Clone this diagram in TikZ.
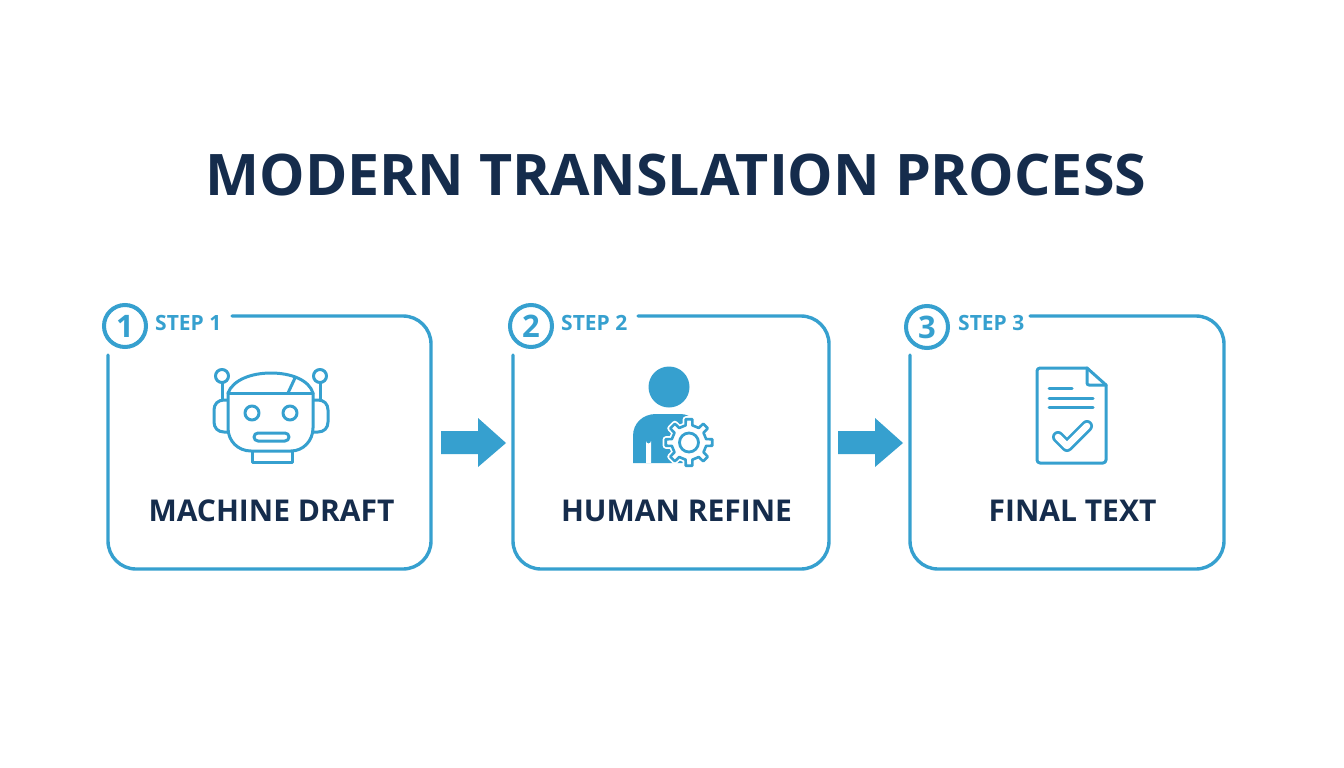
\documentclass[tikz,border=0pt]{standalone}
\usepackage{fontspec}
\setmainfont{Open Sans}
\definecolor{navy}{HTML}{152C4C}
\definecolor{teal1}{HTML}{36A0CF}
\tikzset{
 card/.style={draw=teal1,line width=3.4pt,rounded corners=28pt,line cap=round},
 badge/.style={circle,draw=teal1,line width=4pt,fill=white,minimum size=42pt,inner sep=0pt,text=teal1,font=\fontsize{31}{31}\selectfont\bfseries},
 steplab/.style={text=teal1,font=\fontsize{21}{24}\selectfont\bfseries,inner sep=0pt},
 cardlab/.style={text=navy,font=\fontsize{30}{34}\selectfont\bfseries,inner sep=0pt},
 ico/.style={draw=teal1,line width=3pt,line join=round,line cap=round},
 flow/.style={fill=teal1,draw=none}
}
\begin{document}
\begin{tikzpicture}[x=1pt,y=-1pt]
\useasboundingbox (0,0) rectangle (1344,768);
\fill[white] (0,0) rectangle (1344,768);
\node[text=navy,inner sep=0pt,font=\fontsize{57.3}{64}\selectfont\bfseries] (title) at (676,175) {MODERN TRANSLATION PROCESS};
% cards
\draw[card] (108,355) -- (108,569) -- (431,569) -- (431,316) -- (232,316);
\draw[card] (513,355) -- (513,569) -- (829,569) -- (829,316) -- (638,316);
\draw[card] (910,355) -- (910,569) -- (1224,569) -- (1224,316) -- (1030,316);
% badges
\node[badge] (b1) at (125,326) {1};
\node[badge] (b2) at (531,326) {2};
\node[badge] (b3) at (927,327) {3};
\node[steplab,anchor=west] (s1) at (155,323) {STEP 1};
\node[steplab,anchor=west] (s2) at (561,323) {STEP 2};
\node[steplab,anchor=west] (s3) at (958,323) {STEP 3};
% labels
\node[cardlab] (l1) at (271.5,511) {MACHINE DRAFT};
\node[cardlab] (l2) at (676.5,511) {HUMAN REFINE};
\node[cardlab] (l3) at (1072.5,511) {FINAL TEXT};
% arrows
\fill[flow] (441,431) -- (478,431) -- (478,418) -- (506,443) -- (478,467) -- (478,454) -- (441,454) -- cycle;
\fill[flow] (838,431) -- (875,431) -- (875,418) -- (903,443) -- (875,467) -- (875,454) -- (838,454) -- cycle;
% robot
\begin{scope}[ico]
\draw (222,376) circle (6.5);
\draw (320,376) circle (6.5);
\draw (222,382.5) -- (222,402);
\draw (320,382.5) -- (320,402);
\draw[fill=white] (228,400) -- (224,400) .. controls (218,400) and (214,404) .. (214,410) -- (214,422) .. controls (214,428) and (218,432) .. (224,432) -- (230,432);
\draw[fill=white] (313,400) -- (318,400) .. controls (324,400) and (328,404) .. (328,410) -- (328,422) .. controls (328,428) and (324,432) .. (318,432) -- (312,432);
\draw (252,451) -- (252,462) -- (292,462) -- (292,451);
\draw[fill=white] (228,393) .. controls (233,380) and (251,373) .. (271,373) .. controls (291,373) and (309,380) .. (313,393) -- (313,428) .. controls (313,441) and (303,451) .. (291,451) -- (251,451) .. controls (238,451) and (228,441) .. (228,428) -- cycle;
\draw (228,393) -- (313,393);
\draw (295,378) -- (288,393);
\draw (252,413) circle (7);
\draw (290,413) circle (7);
\draw[rounded corners=4pt] (254,433) rectangle (289,441);
\end{scope}
% person
\fill[teal1] (669,387) circle (20.5);
\fill[teal1] (633,463) -- (633,436) .. controls (633,423) and (643,414) .. (656,414) -- (680,414) .. controls (686,414) and (690,416) .. (694,420) -- (694,463) -- cycle;
\fill[white] (646,463) -- (646,441) arc[start angle=180,end angle=0,radius=2.5] -- (651,463) -- cycle;
\begin{scope}[shift={(689,442.5)}]
\draw[white,line width=6pt,fill=white,line join=round]
 (-11:17.5) \foreach \a in {0,45,...,315} { -- (\a-11:17.5) -- (\a-8:23.5) -- (\a+8:23.5) -- (\a+11:17.5) -- (\a+34:17.5) } -- cycle;
\draw[ico,line width=2.6pt,fill=white]
 (-11:17.5) \foreach \a in {0,45,...,315} { -- (\a-11:17.5) -- (\a-8:23.5) -- (\a+8:23.5) -- (\a+11:17.5) -- (\a+34:17.5) } -- cycle;
\draw[ico,line width=2.8pt] (0,0) circle (9.5);
\end{scope}
% document
\begin{scope}[ico]
\draw[rounded corners=3pt] (1087,368) -- (1037,368) -- (1037,463) -- (1106,463) -- (1106,385);
\draw (1087,368) -- (1106,385);
\draw[rounded corners=2pt] (1087,368) -- (1087,385) -- (1106,385);
\draw (1049,388) -- (1072,388);
\draw (1049,398) -- (1093,398);
\draw (1049,407) -- (1093,407);
\end{scope}
\draw[teal1,line width=12pt,line cap=round,line join=round] (1058,437) -- (1067,446) -- (1087,426);
\draw[white,line width=6.5pt,line cap=round,line join=round] (1058,437) -- (1067,446) -- (1087,426);
\end{tikzpicture}
\end{document}
